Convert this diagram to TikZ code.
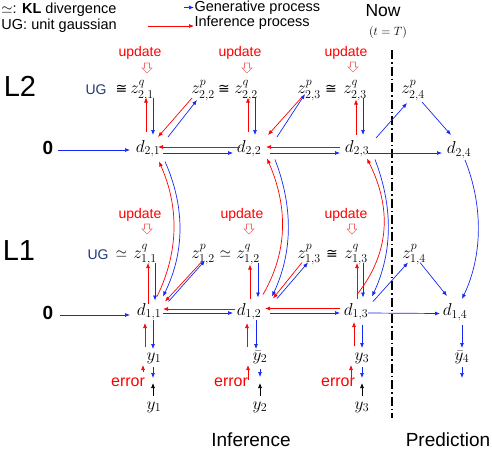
\documentclass[tikz,border=0pt]{standalone}
\usepackage[no-math]{fontspec}
\usepackage{amsmath,amssymb}
\newfontfamily\arial{Liberation Sans}
\newfontfamily\djs{DejaVu Sans}
\usetikzlibrary{arrows.meta,calc}
\definecolor{myred}{RGB}{255,0,0}
\definecolor{myblue}{RGB}{20,40,245}
\definecolor{ugblue}{RGB}{31,56,120}
\definecolor{hollowred}{RGB}{240,110,110}
\begin{document}
\begin{tikzpicture}[x=1pt,y=-1pt,
  every node/.style={inner sep=0.5pt, outer sep=0pt},
  mth/.style={font=\fontsize{17}{19}\selectfont, text height=11.5pt, text depth=4pt},
  rel/.style={font=\fontsize{15}{17}\selectfont, inner sep=0pt},
  cng/.style={font=\djs\fontsize{14}{16}\selectfont, inner sep=0pt},
  lbl/.style={font=\arial\fontsize{14.5}{16}\selectfont},
  upd/.style={font=\arial\fontsize{14}{16}\selectfont, text=myred},
  err/.style={font=\arial\fontsize{16}{18}\selectfont, text=myred},
  ug/.style={font=\arial\fontsize{14}{16}\selectfont, text=ugblue},
  layer/.style={font=\arial\fontsize{29}{32}\selectfont},
  big/.style={font=\arial\fontsize{19}{22}\selectfont},
  zero/.style={font=\arial\bfseries\fontsize{19}{21}\selectfont},
  tip/.style={-{Latex[length=5pt,width=4pt]}},
  barr/.style={draw=myblue, line width=0.7pt, tip},
  rarr/.style={draw=myred, line width=0.7pt, tip},
  karr/.style={draw=black, line width=0.7pt, tip},
  hollowdn/.pic={\draw[hollowred, line width=0.6pt, fill=white]
     (-2.5,0) -- (2.5,0) -- (2.5,5) -- (5,5) -- (0,10) -- (-5,5) -- (-2.5,5) -- cycle;},
]
\useasboundingbox (0,0) rectangle (492,450);

% legend
\node[lbl, anchor=west] (leg1) at (1,10) {$\simeq$: \textbf{KL} divergence};
\node[lbl, anchor=west] (leg2) at (1,26) {UG: unit gaussian};
\node[lbl, anchor=west] (leg3) at (194,7.5) {Generative process};
\node[lbl, anchor=west] (leg4) at (194,22.5) {Inference process};
\coordinate (lb1) at (184,7.5);
\coordinate (lr1) at (148,26);
\draw[barr] (lb1) -- (leg3.west);
\draw[rarr] (lr1) -- ($(leg4.west)+(0,3.5)$);

% now line
\node[font=\arial\fontsize{17.5}{20}\selectfont] (now) at (383,11) {Now};
\node[font=\fontsize{13}{15}\selectfont] (tT) at (388,32) {$(t=T)$};
\coordinate (nowtop) at (392,50);
\coordinate (nowbot) at (392,418);
\draw[black, line width=2.6pt, dash pattern=on 9pt off 3pt on 1.5pt off 3pt] (nowtop) -- (nowbot);

% layer labels
\node[layer] (L2) at (20,86) {L2};
\node[layer] (L1) at (19,251) {L1};

% update labels
\node[upd] (u21) at (140,53) {update};
\node[upd] (u22) at (240,53) {update};
\node[upd] (u23) at (346,53) {update};
\node[upd] (u11) at (140,215) {update};
\node[upd] (u12) at (242,215) {update};
\node[upd] (u13) at (346,215) {update};
\pic at ($(u21)+(7,10)$) {hollowdn};
\pic at ($(u22)+(7,10)$) {hollowdn};
\pic at ($(u23)+(7,9)$) {hollowdn};
\pic at ($(u11)+(7,9)$) {hollowdn};
\pic at ($(u12)+(7,9)$) {hollowdn};
\pic at ($(u13)+(6,9)$) {hollowdn};

% L2 z row
\node[ug] (ug2) at (96,90) {UG};
\node[cng] (s21) at (121.5,89.5) {≅};
\node[mth] (z21q) at (142,90) {$z^{q}_{2,1}$};
\node[mth] (z22p) at (203,90) {$z^{p}_{2,2}$};
\node[cng] (s22) at (224,89.5) {≅};
\node[mth] (z22q) at (246,90) {$z^{q}_{2,2}$};
\node[mth] (z23p) at (309,90) {$z^{p}_{2,3}$};
\node[cng] (s23) at (331,89.5) {≅};
\node[mth] (z23q) at (355,90) {$z^{q}_{2,3}$};
\node[mth] (z24p) at (413,90) {$z^{p}_{2,4}$};

% L2 d row
\node[zero] (zero2) at (48,148) {0};
\node[mth] (d21) at (148,148.5) {$d_{2,1}$};
\node[mth] (d22) at (249,148.5) {$d_{2,2}$};
\node[mth] (d23) at (357,148.5) {$d_{2,3}$};
\node[mth] (d24) at (459,150) {$d_{2,4}$};

% L1 z row
\node[ug] (ug1) at (98,254.5) {UG};
\node[rel] (s11) at (121.5,254) {$\simeq$};
\node[mth] (z11q) at (145,254.5) {$z^{q}_{1,1}$};
\node[mth] (z12p) at (203,254.5) {$z^{p}_{1,2}$};
\node[rel] (s12) at (225.5,254) {$\simeq$};
\node[mth] (z12q) at (248,254.5) {$z^{q}_{1,2}$};
\node[mth] (z13p) at (309,254.5) {$z^{p}_{1,3}$};
\node[cng] (s13) at (332,254) {≅};
\node[mth] (z13q) at (356,254.5) {$z^{q}_{1,3}$};
\node[mth] (z14p) at (414,254.5) {$z^{p}_{1,4}$};

% L1 d row
\node[zero] (zero1) at (48,313) {0};
\node[mth] (d11) at (149,311.5) {$d_{1,1}$};
\node[mth] (d12) at (249,311.5) {$d_{1,2}$};
\node[mth] (d13) at (356,311.5) {$d_{1,3}$};
\node[mth] (d14) at (455,312) {$d_{1,4}$};

% bottom
\node[mth] (yb1) at (154,356.5) {$y_1$};
\node[err] (e1) at (128,382) {error};
\node[mth] (yo1) at (154,405.5) {$y_1$};
\node[mth] (yb2) at (260,356.5) {$\bar{y}_2$};
\node[err] (e2) at (231,382) {error};
\node[mth] (yo2) at (260,405.5) {$y_2$};
\node[mth] (yb3) at (362,356.5) {$y_3$};
\node[err] (e3) at (338,382) {error};
\node[mth] (yo3) at (362,405.5) {$y_3$};
\node[mth] (yb4) at (462,356.5) {$\bar{y}_4$};

\node[big] (inf) at (251,440) {Inference};
\node[big] (pred) at (448,440) {Prediction};

% ---- L2 connectors
\draw[barr] ($(zero2)+(10,2)$) -- ($(d21)+(-18,1.5)$);
% z^q <-> d
\draw[rarr] ($(z21q |- d21)+(4,-16.5)$) -- ($(z21q)+(4,7.5)$);
\draw[barr] ($(z21q)+(11,7.5)$) -- ($(z21q |- d21)+(11,-13.5)$);
\draw[rarr] ($(z22q |- d22)+(2,-16.5)$) -- ($(z22q)+(2,7.5)$);
\draw[barr] ($(z22q)+(9,7.5)$) -- ($(z22q |- d22)+(9,-13.5)$);
\draw[rarr] ($(z23q |- d23)+(1,-13.5)$) -- ($(z23q)+(1,9.5)$);
\draw[barr] ($(z23q)+(8,7.5)$) -- ($(z23q |- d23)+(8,-13.5)$);
% diagonals
\draw[rarr] ($(z22p)+(-11,8)$) -- ($(d21)+(10,-11.5)$);
\draw[barr] ($(d21)+(20,-11.5)$) -- ($(z22p)+(-6,10)$);
\draw[rarr] ($(z23p)+(-7,7)$) -- ($(d22)+(19,-13.5)$);
\draw[barr] ($(d22)+(28,-11.5)$) -- ($(z23p)+(-4,4)$);
\draw[barr] ($(d23)+(19,-10.5)$) -- ($(z24p)+(-6,13)$);
\draw[barr] ($(z24p)+(9,12)$) -- ($(d24)+(-8,-15)$);
% horizontals
\draw[barr] ($(d21)+(15,4.5)$) -- ($(d22)+(-16,4.5)$);
\draw[rarr] ($(d22)+(-9,-1.5)$) -- ($(d21)+(10,-1.5)$);
\draw[barr] ($(d22)+(21,4.5)$) -- ($(d23)+(-17,4.5)$);
\draw[rarr] ($(d23)+(-17,-1.5)$) -- ($(d22)+(17,-1.5)$);
\draw[barr] ($(d23)+(11,4.5)$) -- ($(d24)+(-17,3)$);

% ---- L1 connectors
\draw[barr] ($(zero1)+(12,2)$) -- ($(d11)+(-19,3.5)$);
\draw[rarr] ($(z11q |- d11)+(3,-8)$) -- ($(z11q)+(3,8.5)$);
\draw[barr] ($(z11q)+(10,8.5)$) -- ($(z11q |- d11)+(10,-11)$);
\draw[rarr] ($(z12q |- d12)+(2,-13)$) -- ($(z12q)+(2,10)$);
\draw[barr] ($(z12q)+(10,8.5)$) -- ($(z12q |- d12)+(10,-14)$);
\draw[rarr] ($(z13q |- d13)+(1,-13)$) -- ($(z13q)+(1,8.5)$);
\draw[barr] ($(z13q)+(7,8.5)$) -- ($(z13q |- d13)+(7,-14)$);
% diagonals
\draw[rarr] ($(z12p)+(-2,8)$) -- ($(d11)+(16,-10)$);
\draw[barr] ($(d11)+(19.5,-10)$) -- ($(z12p)+(2,6)$);
\draw[rarr] ($(z13p)+(-7,8)$) -- ($(d12)+(24,-13)$);
\draw[barr] ($(d12)+(28,-13)$) -- ($(z13p)+(-1,8)$);
\draw[barr] ($(d13)+(17,-10)$) -- ($(z14p)+(-6,8)$);
\draw[barr] ($(z14p)+(6,8)$) -- ($(d14)+(-8,-16)$);
% horizontals
\draw[barr] ($(d11)+(14,1.5)$) -- ($(d12)+(-16,1.5)$);
\draw[rarr] ($(d12)+(-14,-2.5)$) -- ($(d11)+(14,-2.5)$);
\draw[barr] ($(d12)+(21,1.5)$) -- ($(d13)+(-16,1.5)$);
\draw[rarr] ($(d13)+(-16,-3)$) -- ($(d12)+(16,-3)$);
\draw[barr] ($(d13)+(12,1.5)$) -- ($(d14)+(-15,1.5)$);

% ---- curves between layers
\draw[rarr] ($(d11)+(8,-15)$) .. controls ($(d11)+(30,-60)$) and ($(d21)+(31,58)$) .. ($(d21)+(11,13)$);
\draw[barr] ($(d21)+(17,13)$) .. controls ($(d21)+(37,58)$) and ($(d11)+(36,-60)$) .. ($(d11)+(14,-15)$);
\draw[rarr] ($(d12)+(14,-17)$) .. controls ($(d12)+(39,-60)$) and ($(d22)+(39,58)$) .. ($(d22)+(18,10)$);
\draw[barr] ($(d22)+(26,11)$) .. controls ($(d22)+(44,58)$) and ($(d12)+(44,-60)$) .. ($(d12)+(23,-15)$);
\draw[rarr] ($(d13)+(1,-17)$) .. controls ($(d13)+(35,-60)$) and ($(d23)+(34,58)$) .. ($(d23)+(10,10)$);
\draw[barr] ($(d23)+(18,11)$) .. controls ($(d23)+(36,58)$) and ($(d13)+(37,-60)$) .. ($(d13)+(16,-15)$);
\draw[barr] ($(d24)+(6,10)$) .. controls ($(d24)+(24,55)$) and ($(d14)+(28,-57)$) .. ($(d14)+(7,-13)$);

% ---- bottom connectors
\draw[rarr] ($(d11)+(-4,35.5)$) -- ($(d11)+(-4,11.5)$);
\draw[barr] ($(d11)+(4,8.5)$) -- ($(d11)+(4,37.5)$);
\draw[rarr] ($(yb1)+(-11,15.5)$) -- ($(yb1)+(-11,8.5)$);
\draw[barr] ($(yb1)+(-1,10.5)$) -- ($(yb1)+(-1,21.5)$);
\draw[karr] ($(yo1)+(-1,-10)$) -- ($(yo1)+(-1,-22.5)$);

\draw[rarr] ($(d12)+(-2,35.5)$) -- ($(d12)+(-2,11.5)$);
\draw[barr] ($(d12)+(7,8.5)$) -- ($(d12)+(7,37.5)$);
\draw[rarr] ($(yb2)+(-12,23.5)$) -- ($(yb2)+(-12,8.5)$);
\draw[barr] ($(yb2)+(0,12.5)$) -- ($(yb2)+(0,20.5)$);
\draw[karr] ($(yo2)+(0,-10)$) -- ($(yo2)+(0,-22.5)$);

\draw[rarr] ($(d13)+(-2,34)$) -- ($(d13)+(-2,10.5)$);
\draw[barr] ($(d13)+(6,13)$) -- ($(d13)+(6,36.5)$);
\draw[rarr] ($(yb3)+(-11,21.5)$) -- ($(yb3)+(-11,8.5)$);
\draw[barr] ($(yb3)+(0,10.5)$) -- ($(yb3)+(0,21.5)$);
\draw[karr] ($(yo3)+(0,-10)$) -- ($(yo3)+(0,-22.5)$);

\draw[barr] ($(d14)+(7,13)$) -- ($(d14)+(7,36)$);
\draw[barr] ($(yb4)+(0,10.5)$) -- ($(yb4)+(0,21.5)$);
\end{tikzpicture}
\end{document}
